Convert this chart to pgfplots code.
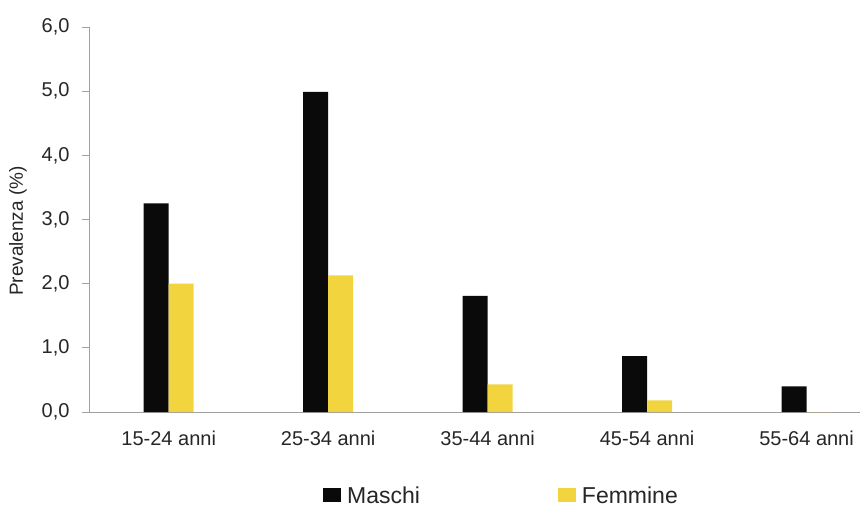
\documentclass[border=0pt]{standalone}
\usepackage{pgfplots}
\pgfplotsset{compat=1.18}
\usepackage{fontspec}
\setmainfont{Liberation Sans}
\definecolor{maschi}{HTML}{0A0A0A}
\definecolor{femmine}{HTML}{F2D43E}
\definecolor{axisgray}{HTML}{A0A0A0}
\definecolor{txt}{HTML}{262626}
\begin{document}
\begin{tikzpicture}[x=1pt,y=1pt]
\path[use as bounding box] (0,0) rectangle (864,509);
\begin{axis}[
  at={(89pt,97pt)}, anchor=south west,
  scale only axis, width=771pt, height=385pt,
  xmin=-0.5, xmax=4.335, ymin=0, ymax=6,
  ybar=0pt, bar width=25pt,
  axis x line*=bottom, axis y line*=left,
  axis line style={axisgray, line width=0.8pt},
  xtick={0,1,2,3,4},
  xticklabels={15-24 anni,25-34 anni,35-44 anni,45-54 anni,55-64 anni},
  x tick style={draw=none},
  extra x ticks={0.5,1.5,2.5,3.5},
  extra x tick labels={},
  extra x tick style={tick style={draw=axisgray, line width=0.8pt}, tick align=outside, major tick length=5pt},
  ytick={0,1,2,3,4,5,6},
  yticklabels={{0,0},{1,0},{2,0},{3,0},{4,0},{5,0},{6,0}},
  y tick style={draw=axisgray, line width=0.8pt},
  tick align=outside, major tick length=7pt,
  ticklabel style={font=\fontsize{20}{24}\selectfont, text=txt},
  yticklabel style={xshift=-9pt},
  xticklabel style={yshift=-8pt},
  ylabel={Prevalenza (\%)},
  ylabel style={font=\fontsize{19}{22}\selectfont, text=txt, at={(rel axis cs:0,0.47)}, anchor=center, yshift=71pt},
  legend columns=2,
  legend style={draw=none, fill=none, at={(rel axis cs:0.2995,-0.219)}, anchor=west,
    font=\fontsize{23}{27}\selectfont, text=txt,
    /tikz/every even column/.append style={column sep=136pt}},
  legend image code/.code={\fill[#1, draw=none] (0pt,-6pt) rectangle (18pt,8pt); \path (22pt,0pt);},
]
\addplot[fill=maschi, draw=none] coordinates {(0,3.25) (1,4.99) (2,1.81) (3,0.87) (4,0.40)};
\addplot[fill=femmine, draw=none] coordinates {(0,2.00) (1,2.13) (2,0.43) (3,0.18) (4,0)};
\legend{Maschi,Femmine}
\end{axis}
\end{tikzpicture}
\end{document}
